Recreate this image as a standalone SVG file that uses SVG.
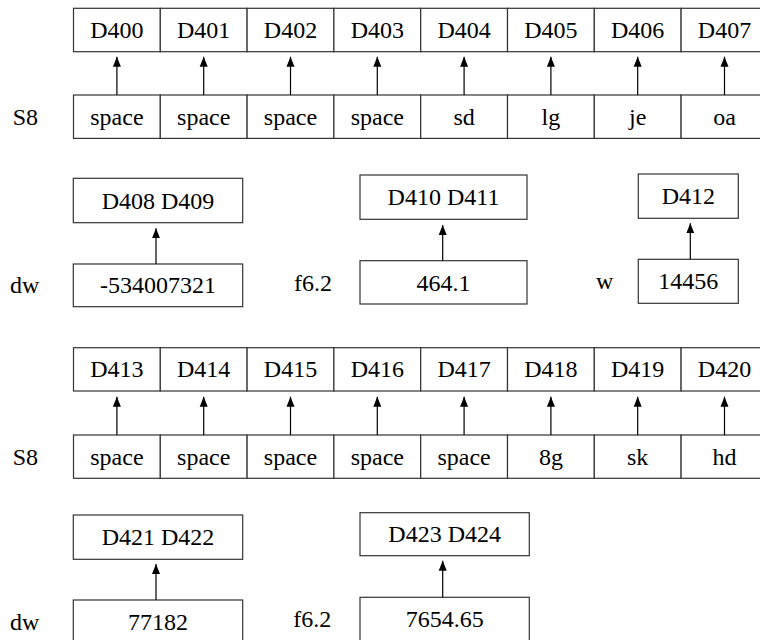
<svg xmlns="http://www.w3.org/2000/svg" width="760" height="640" viewBox="0 0 760 640">
<style>
rect{fill:#fff;stroke:#333;stroke-width:1.2}
text{font-size:24px;fill:#000}
.c{text-anchor:middle}
.a{stroke:#000;stroke-width:1.2;fill:none;marker-end:url(#ah)}
</style>
<defs>
<marker id="ah" viewBox="0 0 10 10" refX="10" refY="5" markerWidth="10" markerHeight="10" markerUnits="userSpaceOnUse" orient="auto">
<path d="M0,1 L10,5 L0,9 Z" fill="#000"/>
</marker>
</defs>
<rect x="0" y="0" width="760" height="640" style="fill:#fff;stroke:none"/>
<g font-family="Liberation Serif, Times New Roman, serif">
<g id="row1-top">
<rect x="73.5" y="8.3" width="86.8" height="43.4"/><text class="c" x="116.9" y="38">D400</text>
<rect x="160.3" y="8.3" width="86.8" height="43.4"/><text class="c" x="203.7" y="38">D401</text>
<rect x="247.1" y="8.3" width="86.8" height="43.4"/><text class="c" x="290.5" y="38">D402</text>
<rect x="333.9" y="8.3" width="86.8" height="43.4"/><text class="c" x="377.3" y="38">D403</text>
<rect x="420.7" y="8.3" width="86.8" height="43.4"/><text class="c" x="464.1" y="38">D404</text>
<rect x="507.5" y="8.3" width="86.8" height="43.4"/><text class="c" x="550.9" y="38">D405</text>
<rect x="594.3" y="8.3" width="86.8" height="43.4"/><text class="c" x="637.7" y="38">D406</text>
<rect x="681.1" y="8.3" width="86.8" height="43.4"/><text class="c" x="724.5" y="38">D407</text>
</g>
<g id="row1-bottom">
<text x="12.7" y="124.7">S8</text>
<rect x="73.5" y="95" width="86.8" height="43.4"/><text class="c" x="116.9" y="124.7">space</text>
<rect x="160.3" y="95" width="86.8" height="43.4"/><text class="c" x="203.7" y="124.7">space</text>
<rect x="247.1" y="95" width="86.8" height="43.4"/><text class="c" x="290.5" y="124.7">space</text>
<rect x="333.9" y="95" width="86.8" height="43.4"/><text class="c" x="377.3" y="124.7">space</text>
<rect x="420.7" y="95" width="86.8" height="43.4"/><text class="c" x="464.1" y="124.7">sd</text>
<rect x="507.5" y="95" width="86.8" height="43.4"/><text class="c" x="550.9" y="124.7">lg</text>
<rect x="594.3" y="95" width="86.8" height="43.4"/><text class="c" x="637.7" y="124.7">je</text>
<rect x="681.1" y="95" width="86.8" height="43.4"/><text class="c" x="724.5" y="124.7">oa</text>
</g>
<g id="g1">
<rect x="73.3" y="178.3" width="169.4" height="44.4"/><text class="c" x="158" y="208.5">D408 D409</text>
<text x="10" y="293.3">dw</text>
<rect x="73.3" y="264" width="169.4" height="42.7"/><text class="c" x="158" y="293.3">-534007321</text>
</g>
<g id="g2">
<rect x="360" y="175" width="167" height="44.3"/><text class="c" x="443.5" y="205.2">D410 D411</text>
<text x="294" y="290.8">f6.2</text>
<rect x="360" y="260.7" width="167" height="43.3"/><text class="c" x="443.5" y="290.8">464.1</text>
</g>
<g id="g3">
<rect x="638.3" y="174" width="100" height="44.3"/><text class="c" x="688.3" y="204.2">D412</text>
<text x="596" y="289.3">w</text>
<rect x="638.3" y="259.3" width="100" height="44"/><text class="c" x="688.3" y="289.3">14456</text>
</g>
<g id="row3-top">
<rect x="73.5" y="347.7" width="86.8" height="43.3"/><text class="c" x="116.9" y="377.3">D413</text>
<rect x="160.3" y="347.7" width="86.8" height="43.3"/><text class="c" x="203.7" y="377.3">D414</text>
<rect x="247.1" y="347.7" width="86.8" height="43.3"/><text class="c" x="290.5" y="377.3">D415</text>
<rect x="333.9" y="347.7" width="86.8" height="43.3"/><text class="c" x="377.3" y="377.3">D416</text>
<rect x="420.7" y="347.7" width="86.8" height="43.3"/><text class="c" x="464.1" y="377.3">D417</text>
<rect x="507.5" y="347.7" width="86.8" height="43.3"/><text class="c" x="550.9" y="377.3">D418</text>
<rect x="594.3" y="347.7" width="86.8" height="43.3"/><text class="c" x="637.7" y="377.3">D419</text>
<rect x="681.1" y="347.7" width="86.8" height="43.3"/><text class="c" x="724.5" y="377.3">D420</text>
</g>
<g id="row3-bottom">
<text x="12.7" y="464.7">S8</text>
<rect x="73.5" y="435" width="86.8" height="43.3"/><text class="c" x="116.9" y="464.7">space</text>
<rect x="160.3" y="435" width="86.8" height="43.3"/><text class="c" x="203.7" y="464.7">space</text>
<rect x="247.1" y="435" width="86.8" height="43.3"/><text class="c" x="290.5" y="464.7">space</text>
<rect x="333.9" y="435" width="86.8" height="43.3"/><text class="c" x="377.3" y="464.7">space</text>
<rect x="420.7" y="435" width="86.8" height="43.3"/><text class="c" x="464.1" y="464.7">space</text>
<rect x="507.5" y="435" width="86.8" height="43.3"/><text class="c" x="550.9" y="464.7">8g</text>
<rect x="594.3" y="435" width="86.8" height="43.3"/><text class="c" x="637.7" y="464.7">sk</text>
<rect x="681.1" y="435" width="86.8" height="43.3"/><text class="c" x="724.5" y="464.7">hd</text>
</g>
<g id="g4">
<rect x="73.3" y="515" width="169.4" height="44.3"/><text class="c" x="158" y="545.2">D421 D422</text>
<text x="10" y="629.7">dw</text>
<rect x="73.3" y="600" width="169.4" height="43.3"/><text class="c" x="158" y="629.7">77182</text>
</g>
<g id="g5">
<rect x="360" y="512.7" width="169.3" height="43"/><text class="c" x="444.7" y="542.2">D423 D424</text>
<text x="293.3" y="627">f6.2</text>
<rect x="360" y="597.3" width="169.3" height="43.3"/><text class="c" x="444.7" y="627">7654.65</text>
</g>
</g>
<g id="connectors">
<line class="a" x1="116.9" y1="95" x2="116.9" y2="56.7"/>
<line class="a" x1="203.7" y1="95" x2="203.7" y2="56.7"/>
<line class="a" x1="290.5" y1="95" x2="290.5" y2="56.7"/>
<line class="a" x1="377.3" y1="95" x2="377.3" y2="56.7"/>
<line class="a" x1="464.1" y1="95" x2="464.1" y2="56.7"/>
<line class="a" x1="550.9" y1="95" x2="550.9" y2="56.7"/>
<line class="a" x1="637.7" y1="95" x2="637.7" y2="56.7"/>
<line class="a" x1="724.5" y1="95" x2="724.5" y2="56.7"/>
<line class="a" x1="156" y1="264" x2="156" y2="228.3"/>
<line class="a" x1="442.7" y1="260.7" x2="442.7" y2="225"/>
<line class="a" x1="690.3" y1="259.3" x2="690.3" y2="223.3"/>
<line class="a" x1="116.9" y1="435" x2="116.9" y2="396.7"/>
<line class="a" x1="203.7" y1="435" x2="203.7" y2="396.7"/>
<line class="a" x1="290.5" y1="435" x2="290.5" y2="396.7"/>
<line class="a" x1="377.3" y1="435" x2="377.3" y2="396.7"/>
<line class="a" x1="464.1" y1="435" x2="464.1" y2="396.7"/>
<line class="a" x1="550.9" y1="435" x2="550.9" y2="396.7"/>
<line class="a" x1="637.7" y1="435" x2="637.7" y2="396.7"/>
<line class="a" x1="724.5" y1="435" x2="724.5" y2="396.7"/>
<line class="a" x1="156" y1="600" x2="156" y2="564"/>
<line class="a" x1="442.7" y1="597.3" x2="442.7" y2="560.7"/>
</g>
</svg>
